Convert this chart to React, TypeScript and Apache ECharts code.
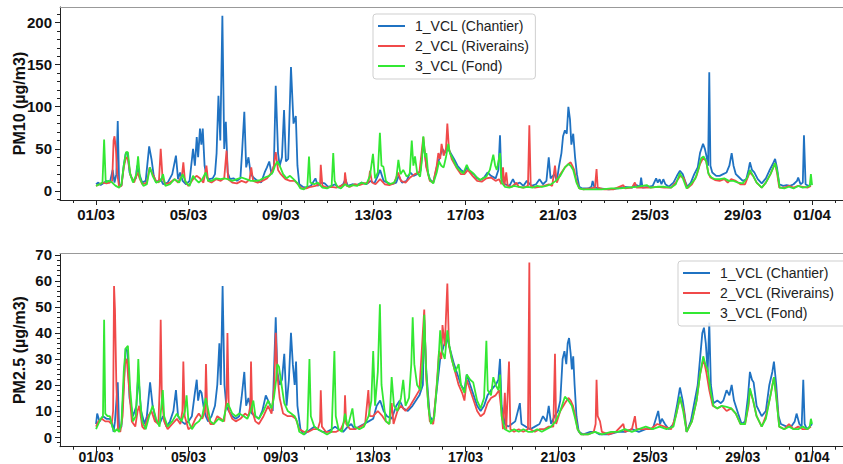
import React, { useEffect, useRef } from 'react';
import * as echarts from 'echarts';

// x values are days since 01/03 00:00
const xTickDays = [0, 4, 8, 12, 16, 20, 24, 28, 31];
const xTickLabels = ['01/03', '05/03', '09/03', '13/03', '17/03', '21/03', '25/03', '29/03', '01/04'];
const xMinorDays = [-1, 0, 1, 2, 3, 4, 5, 6, 7, 8, 9, 10, 11, 12, 13, 14, 15, 16, 17, 18, 19, 20, 21, 22, 23, 24, 25, 26, 27, 28, 29, 30, 31, 32];
const pm10Ticks = [0, 50, 100, 150, 200];
const pm10Minor = [-10, 0, 10, 20, 30, 40, 50, 60, 70, 80, 90, 100, 110, 120, 130, 140, 150, 160, 170, 180, 190, 200, 210];
const pm25Ticks = [0, 10, 20, 30, 40, 50, 60, 70];
const pm25Minor = [-2, 0, 2, 4, 6, 8, 10, 12, 14, 16, 18, 20, 22, 24, 26, 28, 30, 32, 34, 36, 38, 40, 42, 44, 46, 48, 50, 52, 54, 56, 58, 60, 62, 64, 66, 68, 70];
const seriesNames = ['1_VCL (Chantier)', '2_VCL (Riverains)', '3_VCL (Fond)'];

const pm10Chantier: [number, number][] = [[0,8],[0.1,10],[0.2,7],[0.3,9],[0.45,12],[0.6,10],[0.72,25],[0.8,10],[0.88,20],[0.94,83],[1.0,8],[1.1,6],[1.2,30],[1.28,44],[1.36,46],[1.45,22],[1.6,12],[1.72,15],[1.78,30],[1.85,22],[2.0,10],[2.15,12],[2.3,53],[2.4,38],[2.5,18],[2.6,10],[2.8,14],[2.9,8],[3.1,10],[3.3,20],[3.46,42],[3.55,14],[3.64,22],[3.75,12],[3.9,8],[4.05,12],[4.2,50],[4.28,30],[4.36,64],[4.42,40],[4.5,74],[4.56,55],[4.62,74],[4.7,30],[4.8,16],[4.9,14],[5.05,15],[5.15,20],[5.22,45],[5.3,113],[5.38,60],[5.47,208],[5.55,50],[5.62,82],[5.7,22],[5.8,14],[5.95,15],[6.1,12],[6.25,15],[6.32,45],[6.42,94],[6.5,28],[6.6,40],[6.7,20],[6.85,15],[7.0,12],[7.15,10],[7.3,22],[7.4,28],[7.5,35],[7.6,20],[7.7,30],[7.78,125],[7.88,45],[7.95,30],[8.05,40],[8.14,96],[8.22,35],[8.32,38],[8.44,147],[8.55,80],[8.65,89],[8.72,30],[8.8,8],[8.95,5],[9.1,4],[9.3,6],[9.5,15],[9.6,6],[9.75,10],[9.9,9],[10.05,5],[10.2,6],[10.35,8],[10.5,4],[10.7,8],[10.8,14],[10.9,6],[11.1,8],[11.3,7],[11.5,10],[11.7,8],[11.9,12],[12.05,9],[12.2,18],[12.3,25],[12.45,12],[12.6,10],[12.8,8],[13.0,10],[13.1,18],[13.25,10],[13.45,12],[13.6,22],[13.75,18],[13.9,20],[14.05,24],[14.17,58],[14.3,30],[14.45,14],[14.6,10],[14.75,28],[14.9,42],[15.0,50],[15.1,45],[15.2,52],[15.35,45],[15.5,38],[15.65,30],[15.8,25],[15.95,22],[16.05,28],[16.2,22],[16.35,20],[16.5,15],[16.65,13],[16.8,16],[16.95,22],[17.1,18],[17.3,15],[17.42,25],[17.49,66],[17.55,15],[17.7,8],[17.9,6],[18.05,14],[18.15,8],[18.35,10],[18.5,6],[18.65,12],[18.85,6],[19.05,8],[19.2,14],[19.35,8],[19.5,12],[19.6,40],[19.68,15],[19.85,20],[19.95,12],[20.05,30],[20.15,45],[20.22,65],[20.3,72],[20.38,68],[20.45,100],[20.52,85],[20.58,55],[20.66,68],[20.74,40],[20.82,20],[20.92,5],[21.05,3],[21.3,3],[21.45,5],[21.5,12],[21.58,4],[21.8,3],[22.2,2],[22.6,3],[22.9,5],[23.2,4],[23.4,7],[23.55,5],[23.6,16],[23.66,4],[23.9,5],[24.1,6],[24.25,15],[24.32,10],[24.4,14],[24.48,8],[24.56,14],[24.65,8],[24.8,5],[25.0,10],[25.15,18],[25.28,24],[25.4,20],[25.5,12],[25.6,5],[25.75,10],[25.9,20],[26.05,28],[26.15,45],[26.28,56],[26.36,50],[26.44,40],[26.5,30],[26.55,141],[26.6,30],[26.68,22],[26.85,18],[27.0,18],[27.15,20],[27.3,22],[27.42,30],[27.52,45],[27.6,30],[27.7,20],[27.85,16],[28.0,12],[28.15,14],[28.25,25],[28.31,34],[28.4,25],[28.5,22],[28.65,14],[28.82,9],[29.0,15],[29.15,24],[29.3,32],[29.4,38],[29.48,28],[29.58,8],[29.75,6],[29.9,7],[30.05,6],[30.2,8],[30.35,12],[30.4,16],[30.5,8],[30.6,10],[30.65,66],[30.72,8],[30.85,6],[30.95,8]];

const pm10Riverains: [number, number][] = [[0,6],[0.15,8],[0.3,10],[0.45,9],[0.6,10],[0.7,12],[0.76,60],[0.8,65],[0.86,50],[0.92,20],[1.0,5],[1.1,6],[1.2,28],[1.3,40],[1.38,38],[1.5,18],[1.65,10],[1.8,22],[1.9,14],[2.0,8],[2.2,10],[2.32,28],[2.45,20],[2.6,12],[2.72,10],[2.8,50],[2.88,15],[3.0,8],[3.2,10],[3.4,14],[3.55,10],[3.72,18],[3.78,34],[3.85,12],[4.0,6],[4.2,14],[4.35,18],[4.5,15],[4.65,10],[4.78,30],[4.85,12],[5.0,10],[5.2,14],[5.4,12],[5.55,15],[5.65,48],[5.72,14],[5.9,10],[6.1,9],[6.3,12],[6.5,10],[6.65,14],[6.72,28],[6.8,12],[7.0,10],[7.2,12],[7.4,15],[7.6,22],[7.7,30],[7.78,46],[7.88,25],[8.0,20],[8.2,14],[8.4,12],[8.6,12],[8.75,8],[8.9,3],[9.1,3],[9.3,5],[9.5,6],[9.7,8],[9.73,31],[9.8,6],[10.0,4],[10.2,5],[10.4,4],[10.6,6],[10.75,8],[10.78,22],[10.85,6],[11.0,5],[11.2,8],[11.4,7],[11.6,9],[11.8,10],[11.86,24],[11.95,10],[12.1,8],[12.3,14],[12.5,8],[12.7,7],[12.9,9],[13.08,22],[13.2,12],[13.4,10],[13.6,16],[13.8,20],[14.0,22],[14.17,64],[14.3,28],[14.45,12],[14.6,10],[14.75,30],[14.82,45],[14.9,38],[14.96,56],[15.05,42],[15.15,50],[15.21,80],[15.28,50],[15.4,38],[15.6,28],[15.8,20],[15.95,20],[16.1,25],[16.3,18],[16.5,12],[16.7,11],[16.9,15],[17.1,16],[17.3,12],[17.45,14],[17.55,8],[17.62,28],[17.68,6],[17.76,22],[17.82,6],[18.0,5],[18.2,10],[18.3,5],[18.5,4],[18.7,6],[18.76,78],[18.82,6],[19.0,4],[19.2,5],[19.4,6],[19.6,8],[19.75,6],[19.87,30],[19.95,10],[20.1,20],[20.3,28],[20.45,32],[20.55,34],[20.62,30],[20.7,25],[20.8,12],[20.92,3],[21.1,2],[21.4,3],[21.6,4],[21.67,26],[21.72,4],[22.0,2],[22.4,2],[22.83,7],[22.9,3],[23.2,4],[23.33,10],[23.4,4],[23.7,4],[24.0,4],[24.3,5],[24.6,4],[24.9,4],[25.1,10],[25.3,18],[25.45,15],[25.6,3],[25.8,8],[26.0,18],[26.15,32],[26.3,40],[26.42,35],[26.5,22],[26.6,16],[26.8,13],[27.0,12],[27.2,14],[27.35,10],[27.5,14],[27.7,12],[27.9,8],[28.1,8],[28.3,22],[28.45,18],[28.6,10],[28.82,4],[29.0,10],[29.2,20],[29.4,33],[29.48,22],[29.58,4],[29.8,4],[30.0,6],[30.2,4],[30.4,6],[30.6,5],[30.8,4],[30.95,6]];

const pm10Fond: [number, number][] = [[0,6],[0.15,8],[0.28,10],[0.35,61],[0.42,10],[0.55,12],[0.7,10],[0.85,6],[1.0,4],[1.1,8],[1.2,30],[1.3,46],[1.38,46],[1.48,20],[1.6,10],[1.75,20],[1.82,41],[1.9,15],[2.05,6],[2.2,8],[2.33,28],[2.45,18],[2.6,10],[2.8,12],[2.9,20],[3.0,6],[3.2,8],[3.4,14],[3.6,10],[3.75,20],[3.9,10],[4.05,6],[4.2,18],[4.3,14],[4.45,10],[4.6,14],[4.75,22],[4.85,12],[5.0,12],[5.2,15],[5.4,14],[5.55,15],[5.7,14],[5.9,12],[6.1,14],[6.3,16],[6.5,14],[6.7,12],[6.9,12],[7.1,13],[7.3,16],[7.5,18],[7.65,22],[7.75,30],[7.85,35],[7.95,30],[8.1,20],[8.25,15],[8.4,18],[8.55,14],[8.7,10],[8.85,3],[9.0,2],[9.15,6],[9.22,41],[9.28,10],[9.45,8],[9.6,10],[9.8,4],[10.0,3],[10.2,6],[10.27,45],[10.33,12],[10.45,5],[10.6,3],[10.78,8],[10.95,5],[11.1,7],[11.3,6],[11.5,10],[11.7,8],[11.86,18],[11.99,44],[12.08,15],[12.2,22],[12.29,69],[12.36,30],[12.44,29],[12.55,12],[12.7,8],[12.9,10],[13.0,15],[13.09,37],[13.18,20],[13.3,25],[13.45,17],[13.58,20],[13.67,60],[13.74,30],[13.81,41],[13.9,22],[14.03,17],[14.12,40],[14.17,65],[14.25,40],[14.3,45],[14.38,20],[14.46,13],[14.6,9],[14.75,22],[14.85,35],[14.95,30],[15.05,28],[15.15,40],[15.25,56],[15.32,45],[15.4,41],[15.5,35],[15.6,29],[15.75,24],[15.9,21],[16.05,31],[16.15,25],[16.33,21],[16.5,16],[16.62,13],[16.75,15],[16.9,17],[17.05,25],[17.2,43],[17.28,30],[17.35,25],[17.49,45],[17.56,10],[17.7,5],[17.9,4],[18.1,6],[18.3,5],[18.5,4],[18.7,5],[18.9,4],[19.1,6],[19.3,5],[19.5,6],[19.7,8],[19.9,12],[20.1,18],[20.3,28],[20.45,32],[20.55,30],[20.66,25],[20.8,10],[20.92,3],[21.1,2],[21.5,2],[21.9,2],[22.3,3],[22.7,3],[23.0,4],[23.4,5],[23.84,7],[24.0,4],[24.3,5],[24.6,5],[24.9,4],[25.1,8],[25.28,21],[25.42,14],[25.57,3],[25.75,8],[25.95,15],[26.1,28],[26.2,39],[26.3,41],[26.42,35],[26.52,20],[26.65,16],[26.8,14],[27.0,14],[27.2,15],[27.4,12],[27.6,12],[27.8,10],[28.0,9],[28.2,16],[28.31,25],[28.45,18],[28.6,10],[28.82,4],[29.0,10],[29.2,20],[29.4,33],[29.5,22],[29.6,4],[29.8,3],[30.0,5],[30.2,3],[30.4,6],[30.6,4],[30.8,5],[30.9,6],[30.95,20],[31.0,7]];

const pm25Chantier: [number, number][] = [[0,5],[0.05,9],[0.15,6],[0.3,8],[0.45,7],[0.6,7],[0.7,5],[0.76,2],[0.82,6],[0.94,21],[1.0,3],[1.1,4],[1.2,20],[1.28,34],[1.36,33],[1.45,15],[1.6,8],[1.75,12],[1.83,24],[1.95,10],[2.1,5],[2.2,8],[2.34,21],[2.45,12],[2.6,6],[2.75,5],[2.9,8],[3.05,4],[3.2,6],[3.35,10],[3.46,18],[3.55,8],[3.7,6],[3.85,5],[4.0,6],[4.15,8],[4.28,17],[4.36,22],[4.42,14],[4.5,18],[4.57,17],[4.65,12],[4.75,8],[4.85,6],[5.0,8],[5.15,12],[5.25,20],[5.34,36],[5.4,20],[5.48,58],[5.56,20],[5.64,12],[5.75,10],[5.9,8],[6.05,7],[6.2,8],[6.3,15],[6.42,25],[6.5,12],[6.6,15],[6.75,9],[6.9,8],[7.05,7],[7.2,10],[7.35,16],[7.5,13],[7.65,10],[7.78,46],[7.85,25],[7.95,20],[8.05,22],[8.15,32],[8.25,12],[8.35,22],[8.44,40],[8.52,28],[8.6,20],[8.66,29],[8.72,12],[8.85,3],[9.0,1],[9.15,2],[9.3,3],[9.45,4],[9.6,3],[9.8,2],[10.0,2],[10.2,3],[10.35,4],[10.5,3],[10.7,2],[10.9,4],[11.05,5],[11.2,3],[11.4,4],[11.6,5],[11.8,6],[12.0,7],[12.15,12],[12.3,14],[12.45,10],[12.6,8],[12.8,7],[13.0,12],[13.15,14],[13.3,11],[13.5,10],[13.7,12],[13.85,14],[14.0,16],[14.15,20],[14.21,45],[14.3,25],[14.45,8],[14.6,6],[14.75,18],[14.9,30],[15.05,35],[15.2,38],[15.35,33],[15.5,28],[15.65,24],[15.8,20],[15.95,18],[16.05,24],[16.2,20],[16.35,16],[16.5,12],[16.65,10],[16.8,12],[16.95,16],[17.1,18],[17.3,20],[17.42,22],[17.49,30],[17.56,12],[17.7,5],[17.85,4],[18.0,5],[18.15,6],[18.35,13],[18.42,5],[18.6,4],[18.8,3],[19.0,4],[19.2,5],[19.35,8],[19.5,6],[19.6,12],[19.7,5],[19.85,8],[20.0,10],[20.1,14],[20.2,30],[20.28,33],[20.36,28],[20.42,36],[20.48,38],[20.55,32],[20.6,26],[20.66,31],[20.72,20],[20.8,8],[20.9,2],[21.1,1],[21.4,2],[21.6,2],[21.8,1],[22.2,1],[22.6,2],[22.9,2],[23.2,3],[23.5,2],[23.8,3],[24.1,3],[24.34,10],[24.42,5],[24.5,7],[24.63,5],[24.8,3],[25.0,5],[25.15,12],[25.28,19],[25.4,14],[25.5,8],[25.57,2],[25.75,6],[25.9,13],[26.05,20],[26.15,30],[26.25,40],[26.32,42],[26.4,36],[26.48,25],[26.55,44],[26.62,20],[26.73,13],[26.9,14],[27.05,13],[27.16,14],[27.3,18],[27.42,16],[27.52,20],[27.62,14],[27.8,9],[27.95,5],[28.1,6],[28.22,15],[28.31,25],[28.4,22],[28.47,21],[28.6,12],[28.82,8],[29.0,10],[29.15,20],[29.28,25],[29.35,29],[29.45,20],[29.55,8],[29.65,5],[29.9,4],[30.1,4],[30.25,6],[30.33,9],[30.45,5],[30.55,4],[30.62,22],[30.68,5],[30.77,3],[30.9,4],[31.0,5]];

const pm25Riverains: [number, number][] = [[0,4],[0.1,6],[0.25,7],[0.4,6],[0.55,6],[0.68,5],[0.74,10],[0.78,58],[0.82,49],[0.88,20],[0.95,3],[1.05,2],[1.15,8],[1.25,28],[1.33,30],[1.42,20],[1.55,6],[1.7,4],[1.8,10],[1.87,12],[2.0,4],[2.1,3],[2.25,8],[2.4,10],[2.55,6],[2.7,5],[2.76,20],[2.8,45],[2.85,15],[2.95,6],[3.1,3],[3.3,5],[3.5,7],[3.65,5],[3.74,10],[3.78,29],[3.84,8],[4.0,3],[4.15,4],[4.3,7],[4.45,9],[4.6,7],[4.72,10],[4.76,28],[4.82,8],[4.95,5],[5.1,5],[5.25,8],[5.4,7],[5.55,6],[5.65,15],[5.69,40],[5.75,10],[5.9,7],[6.05,6],[6.25,7],[6.45,9],[6.6,8],[6.68,12],[6.71,29],[6.76,10],[6.9,6],[7.05,5],[7.25,8],[7.45,12],[7.6,9],[7.72,20],[7.78,40],[7.85,24],[7.95,15],[8.1,9],[8.3,8],[8.5,8],[8.65,7],[8.8,3],[9.0,2],[9.2,2],[9.4,3],[9.6,3],[9.7,6],[9.73,18],[9.78,4],[9.95,2],[10.15,2],[10.4,2],[10.6,3],[10.75,6],[10.78,16],[10.83,5],[11.0,3],[11.2,3],[11.45,4],[11.65,5],[11.79,18],[11.85,8],[12.0,8],[12.2,10],[12.4,8],[12.55,6],[12.7,5],[12.8,13],[12.88,5],[13.05,10],[13.2,12],[13.4,10],[13.6,12],[13.8,15],[14.0,18],[14.21,49],[14.3,22],[14.45,6],[14.6,5],[14.75,20],[14.85,33],[14.95,30],[15.0,43],[15.1,35],[15.21,59],[15.28,35],[15.4,30],[15.55,25],[15.7,20],[15.85,17],[15.95,14],[16.05,22],[16.2,18],[16.35,14],[16.5,10],[16.65,8],[16.8,9],[16.95,13],[17.1,15],[17.3,16],[17.45,18],[17.55,10],[17.62,3],[17.7,17],[17.76,3],[17.88,29],[17.94,3],[18.1,2],[18.3,3],[18.5,2],[18.7,3],[18.76,67],[18.8,3],[19.0,2],[19.2,3],[19.4,3],[19.6,4],[19.8,4],[19.87,32],[19.92,5],[20.1,10],[20.3,13],[20.45,15],[20.55,14],[20.65,12],[20.75,8],[20.85,3],[21.0,1],[21.3,1],[21.55,2],[21.63,5],[21.67,22],[21.72,8],[21.82,6],[21.9,2],[22.2,1],[22.5,2],[22.83,5],[22.9,2],[23.2,3],[23.33,8],[23.4,3],[23.7,3],[24.0,3],[24.3,5],[24.6,4],[24.9,3],[25.1,8],[25.28,15],[25.45,10],[25.57,2],[25.8,6],[26.0,14],[26.15,24],[26.3,30],[26.42,25],[26.55,18],[26.7,12],[26.9,11],[27.1,12],[27.3,10],[27.5,11],[27.7,9],[27.9,5],[28.1,5],[28.25,12],[28.31,18],[28.45,14],[28.6,8],[28.82,4],[29.0,8],[29.2,16],[29.35,23],[29.45,16],[29.58,4],[29.8,3],[30.0,5],[30.2,3],[30.4,4],[30.6,3],[30.8,3],[30.95,4]];

const pm25Fond: [number, number][] = [[0,3],[0.1,5],[0.2,7],[0.3,8],[0.35,45],[0.4,9],[0.5,8],[0.6,8],[0.7,4],[0.8,2],[0.9,3],[1.0,2],[1.1,5],[1.2,25],[1.28,34],[1.38,35],[1.48,18],[1.6,6],[1.72,8],[1.8,22],[1.83,30],[1.9,15],[2.0,6],[2.15,3],[2.3,8],[2.45,12],[2.6,7],[2.75,4],[2.89,18],[2.95,8],[3.1,4],[3.3,6],[3.5,9],[3.7,6],[3.85,10],[3.92,16],[4.0,6],[4.15,3],[4.3,5],[4.45,6],[4.6,8],[4.75,15],[4.82,12],[4.95,6],[5.1,5],[5.3,7],[5.5,6],[5.6,10],[5.7,13],[5.8,11],[5.9,9],[6.05,8],[6.2,9],[6.4,8],[6.55,7],[6.7,10],[6.81,14],[6.9,8],[7.05,7],[7.25,10],[7.45,14],[7.6,11],[7.7,15],[7.8,22],[7.85,28],[7.92,27],[8.0,22],[8.15,13],[8.3,10],[8.45,9],[8.6,8],[8.7,6],[8.8,2],[9.0,1],[9.15,3],[9.24,30],[9.3,8],[9.45,4],[9.6,3],[9.8,2],[10.0,1],[10.2,2],[10.32,33],[10.38,8],[10.5,3],[10.65,2],[10.78,9],[10.9,4],[11.1,11],[11.2,4],[11.4,3],[11.6,4],[11.8,8],[11.92,14],[12.0,33],[12.08,12],[12.2,25],[12.29,51],[12.36,20],[12.44,14],[12.55,6],[12.7,5],[12.8,23],[12.9,12],[13.05,10],[13.2,15],[13.3,22],[13.4,12],[13.55,15],[13.65,28],[13.71,46],[13.78,28],[13.9,20],[14.05,18],[14.15,30],[14.21,47],[14.28,28],[14.38,12],[14.5,5],[14.65,8],[14.8,25],[14.9,41],[14.98,33],[15.1,30],[15.21,41],[15.3,35],[15.4,30],[15.55,25],[15.7,28],[15.8,20],[15.95,17],[16.05,24],[16.2,22],[16.33,21],[16.5,14],[16.65,11],[16.8,15],[16.9,37],[16.96,18],[17.1,16],[17.2,23],[17.3,20],[17.42,18],[17.49,24],[17.56,8],[17.7,3],[17.9,2],[18.1,3],[18.3,2],[18.5,3],[18.7,2],[18.9,2],[19.1,3],[19.3,2],[19.5,3],[19.7,4],[19.9,6],[20.1,10],[20.3,15.5],[20.45,14],[20.6,12],[20.72,8],[20.85,3],[21.0,1],[21.3,1],[21.6,2],[21.9,1],[22.3,2],[22.6,2],[22.9,3],[23.2,2],[23.5,3],[23.8,4],[24.1,3],[24.4,4],[24.7,3],[25.0,4],[25.15,10],[25.28,15.5],[25.42,10],[25.57,2],[25.8,6],[26.0,14],[26.15,24],[26.29,31],[26.38,28],[26.48,26],[26.6,18],[26.73,12],[26.9,11],[27.1,12],[27.3,11.6],[27.5,11],[27.7,9],[27.9,5],[28.1,5],[28.25,13],[28.31,18.7],[28.45,14],[28.6,8],[28.82,4],[29.0,7],[29.2,16],[29.35,23],[29.45,15],[29.58,4],[29.8,3],[30.0,4],[30.2,3],[30.4,3],[30.6,4],[30.8,3],[30.9,4],[30.95,7],[31.0,5]];

const colors = ['#1f72c2', '#f04a4a', '#33e833'];
const FONT = 'Liberation Sans, Arial, sans-serif';
const X_MIN = -1.56;
const X_MAX = 32.34;

function xLabel(v: number): string {
  const i = xTickDays.findIndex((d) => Math.abs(d - v) < 1e-6);
  return i >= 0 ? xTickLabels[i] : '';
}

function buildAxes(gridIndex: number, yMin: number, yMax: number, yTicks: number[], yMinor: number[], yName: string, xFont: number, xMargin: number) {
  const xAxes = [
    {
      type: 'value', gridIndex, min: X_MIN, max: X_MAX, position: 'bottom',
      axisLine: { show: true, onZero: false, lineStyle: { color: '#222', width: 1 } },
      axisTick: { show: true, customValues: xTickDays, length: 5, lineStyle: { color: '#222' } },
      axisLabel: { show: true, customValues: xTickDays, formatter: xLabel, margin: xMargin, fontFamily: FONT, fontWeight: 'bold', fontSize: xFont, color: '#111' },
      splitLine: { show: false },
    },
    {
      type: 'value', gridIndex, min: X_MIN, max: X_MAX, position: 'bottom',
      axisLine: { show: false, onZero: false },
      axisTick: { show: true, customValues: xMinorDays, length: 3, lineStyle: { color: '#222' } },
      axisLabel: { show: false },
      splitLine: { show: false },
    },
    {
      type: 'value', gridIndex, min: X_MIN, max: X_MAX, position: 'top',
      axisLine: { show: true, onZero: false, lineStyle: { color: '#999', width: 1 } },
      axisTick: { show: false },
      axisLabel: { show: false },
      splitLine: { show: false },
    },
  ];
  const yAxes = [
    {
      type: 'value', gridIndex, min: yMin, max: yMax, position: 'left',
      name: yName, nameLocation: 'middle', nameGap: 33, nameMoveOverlap: false,
      nameTextStyle: { fontFamily: FONT, fontWeight: 'bold', fontSize: 16, color: '#111' },
      axisLine: { show: true, onZero: false, lineStyle: { color: '#222', width: 1 } },
      axisTick: { show: true, customValues: yTicks, length: 5, lineStyle: { color: '#222' } },
      axisLabel: { show: true, customValues: yTicks, margin: 8, fontFamily: FONT, fontWeight: 'bold', fontSize: 15, color: '#111' },
      splitLine: { show: false },
    },
    {
      type: 'value', gridIndex, min: yMin, max: yMax, position: 'left',
      axisLine: { show: false, onZero: false },
      axisTick: { show: true, customValues: yMinor, length: 3, lineStyle: { color: '#222' } },
      axisLabel: { show: false },
      splitLine: { show: false },
    },
  ];
  return { xAxes, yAxes };
}

function lineSeries(name: string, data: [number, number][], color: string, axisIdx: number) {
  return {
    type: 'line', name, data, xAxisIndex: axisIdx * 3, yAxisIndex: axisIdx * 2,
    showSymbol: false, symbol: 'none', clip: true,
    lineStyle: { color, width: 1.8 }, itemStyle: { color },
    emphasis: { disabled: true },
  };
}

function legendAt(left: number, top: number, rightPad: number) {
  return {
    data: seriesNames, orient: 'vertical', left, top,
    icon: 'rect', itemWidth: 27, itemHeight: 2, itemGap: 6,
    padding: [5, rightPad, 6, 5],
    selectedMode: false,
    borderColor: '#cfcfcf', borderWidth: 1, borderRadius: 3,
    backgroundColor: 'rgba(255,255,255,0.85)',
    textStyle: { fontFamily: FONT, fontSize: 14, color: '#222', lineHeight: 14, padding: [0, 0, 0, 5] },
  };
}

export default function App() {
  const ref = useRef<HTMLDivElement>(null);
  useEffect(() => {
    if (!ref.current) return;
    const chart = echarts.init(ref.current, undefined, { renderer: 'svg' });
    const top = buildAxes(0, -10.7, 218.4, pm10Ticks, pm10Minor, 'PM10 (µg/m3)', 15, 7);
    const bot = buildAxes(1, -3.72, 70.5, pm25Ticks, pm25Minor, 'PM2.5 (µg/m3)', 14, 3);
    chart.setOption({
      animation: false,
      backgroundColor: '#ffffff',
      grid: [
        { left: 60, top: 7, right: 0, height: 193, containLabel: false, outerBoundsMode: 'none' },
        { left: 60, top: 253.5, right: 0, height: 193.2, containLabel: false, outerBoundsMode: 'none' },
      ],
      xAxis: [...top.xAxes, ...bot.xAxes],
      yAxis: [...top.yAxes, ...bot.yAxes],
      legend: [legendAt(373, 14, 6), legendAt(678, 261, 30)],
      series: [
        lineSeries(seriesNames[0], pm10Chantier, colors[0], 0),
        lineSeries(seriesNames[1], pm10Riverains, colors[1], 0),
        lineSeries(seriesNames[2], pm10Fond, colors[2], 0),
        lineSeries(seriesNames[0], pm25Chantier, colors[0], 1),
        lineSeries(seriesNames[1], pm25Riverains, colors[1], 1),
        lineSeries(seriesNames[2], pm25Fond, colors[2], 1),
      ],
    });
    return () => chart.dispose();
  }, []);
  return <div ref={ref} style={{ position: 'fixed', left: 0, top: 0, width: 843, height: 464, background: '#fff' }} />;
}
